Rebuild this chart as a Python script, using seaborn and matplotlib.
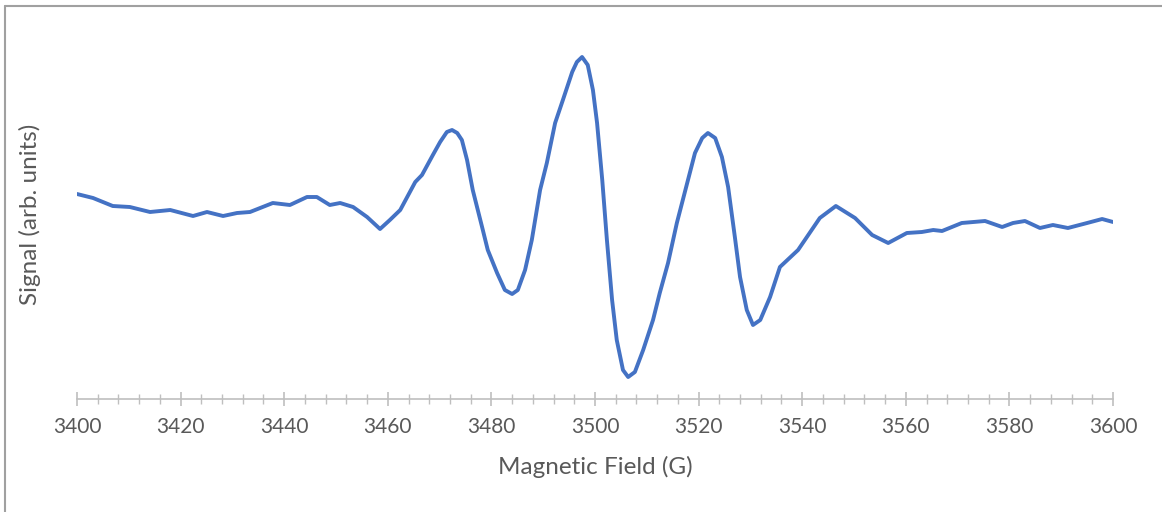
import matplotlib
matplotlib.use("Agg")
import matplotlib.pyplot as plt
from matplotlib.lines import Line2D
from matplotlib.ticker import MultipleLocator
import seaborn as sns
import pandas as pd

# EPR first-derivative spectrum (arbitrary units)
field_G = [
    3400.0, 3403.1, 3406.9, 3410.2, 3414.1, 3418.0, 3422.4, 3425.1, 3428.2, 3430.9,
    3433.4, 3437.8, 3441.1, 3444.4, 3446.3, 3448.8, 3450.8, 3453.3, 3456.0, 3458.5,
    3460.4, 3462.4, 3465.3, 3466.6, 3468.7, 3470.1, 3471.4, 3472.4, 3473.4, 3474.3,
    3475.3, 3476.4, 3478.2, 3479.3, 3481.1, 3482.6, 3484.0, 3485.1, 3486.5, 3487.8,
    3489.4, 3490.7, 3492.3, 3493.8, 3495.6, 3496.5, 3497.5, 3498.6, 3499.6, 3500.4,
    3501.4, 3502.3, 3503.3, 3504.2, 3505.4, 3506.4, 3507.7, 3509.3, 3511.2, 3512.5,
    3514.1, 3515.8, 3517.8, 3519.3, 3520.7, 3521.8, 3523.2, 3524.5, 3525.7, 3527.0,
    3528.0, 3529.3, 3530.5, 3531.9, 3533.8, 3535.7, 3539.2, 3543.4, 3546.5, 3550.2,
    3553.5, 3556.6, 3560.2, 3563.1, 3565.3, 3567.0, 3570.8, 3575.3, 3578.6, 3580.7,
    3583.0, 3585.9, 3588.4, 3591.3, 3595.0, 3597.9, 3600.0,
]
signal = [
    36, 32, 24, 23, 18, 20, 14, 18, 14, 17,
    18, 27, 25, 33, 33, 25, 27, 23, 13, 1,
    10, 20, 48, 55, 75, 88, 98, 100, 97, 90,
    70, 40, 3, -20, -43, -60, -64, -60, -40, -10,
    40, 67, 107, 130, 158, 168, 173, 165, 140, 107,
    50, -10, -70, -110, -140, -147, -142, -120, -90, -63,
    -33, 7, 47, 77, 92, 97, 92, 73, 43, -7,
    -47, -80, -95, -90, -67, -37, -20, 12, 24, 12,
    -5, -13, -3, -2, 0, -1, 7, 9, 3, 7,
    9, 2, 5, 2, 7, 11, 8,
]

df = pd.DataFrame({"Magnetic Field (G)": field_G, "Signal": signal})

sns.set_theme(style="white")
plt.rcParams["font.family"] = ["Lato", "DejaVu Sans"]

fig = plt.figure(figsize=(11.62, 5.12), dpi=100)
W, H = 1162, 512
ax = fig.add_axes([77 / W, (H - 399) / H, (1113 - 77) / W, (399 - 30) / H])

sns.lineplot(data=df, x="Magnetic Field (G)", y="Signal", ax=ax,
             color="#4472C4", linewidth=2.8, solid_joinstyle="round",
             solid_capstyle="round")

ax.set_xlim(3400, 3600)
ax.set_ylim(230 - 399, 230 - 30)
ax.xaxis.set_major_locator(MultipleLocator(20))
ax.xaxis.set_minor_locator(MultipleLocator(4))
ax.set_yticks([])

for side in ("left", "top", "right"):
    ax.spines[side].set_visible(False)
ax.spines["bottom"].set_color("#BFBFBF")
ax.spines["bottom"].set_linewidth(1.2)

ax.tick_params(axis="x", which="major", direction="inout", length=10, width=1.2,
               color="#BFBFBF", labelsize=15, labelcolor="#595959", pad=8, bottom=True)
ax.tick_params(axis="x", which="minor", direction="inout", length=7, width=1.0,
               color="#BFBFBF", bottom=True)

ax.set_xlabel("Magnetic Field (G)", fontsize=17.5, color="#595959")
ax.set_ylabel("Signal (arb. units)", fontsize=17.5, color="#595959")
ax.xaxis.set_label_coords(0.5, -(467 - 399) / (399 - 30), transform=ax.transAxes)
ax.yaxis.set_label_coords(-(77 - 30) / (1113 - 77), 0.5, transform=ax.transAxes)
ax.xaxis.label.set_va("center")
ax.yaxis.label.set_va("center")

# chart frame (top and left edges)
fig.add_artist(Line2D([4.5 / W, 4.5 / W], [0, 1 - 5.5 / H], transform=fig.transFigure,
                      color="#A0A0A0", linewidth=1.5))
fig.add_artist(Line2D([4.5 / W, 1], [1 - 5.5 / H, 1 - 5.5 / H], transform=fig.transFigure,
                      color="#A0A0A0", linewidth=1.5))

fig.savefig("out.png", dpi=100)
